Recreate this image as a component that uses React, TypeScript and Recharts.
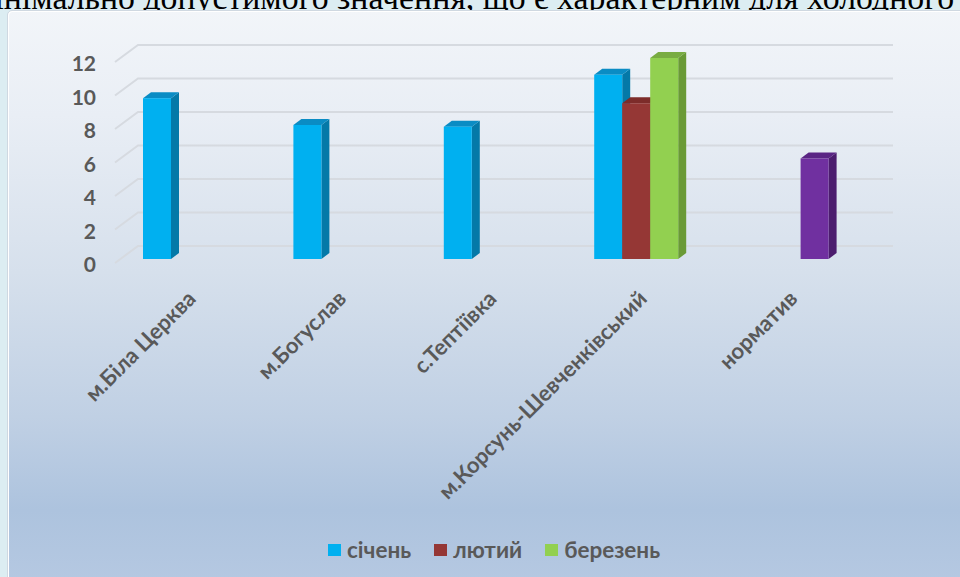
import React from 'react';
import { BarChart, Bar, XAxis, YAxis, CartesianGrid, Legend, Cell } from 'recharts';

const categories = ['м.Біла Церква', 'м.Богуслав', 'с.Тептіївка', 'м.Корсунь-Шевченківський', 'норматив'];
const january = [9.6, 8.0, 7.9, 11.0, null];
const february = [null, null, null, 9.3, null];
const march = [null, null, null, 12.0, 6.0];
const yTicks = [0, 2, 4, 6, 8, 10, 12];
const seriesNames = ['січень', 'лютий', 'березень'];
const headerText = 'мінімально допустимого значення, що є характерним для холодного';

const BLUE = '#00b0f0';
const RED = '#953735';
const GREEN = '#92d050';
const PURPLE = '#7030a0';

const shades: Record<string, { side: string; top: string }> = {
  [BLUE]: { side: '#0479a8', top: '#0a8cc4' },
  [RED]: { side: '#6f2624', top: '#7d2c2a' },
  [GREEN]: { side: '#6a9a36', top: '#79ac42' },
  [PURPLE]: { side: '#4c1d6e', top: '#5a2584' },
};

const data = categories.map((name, i) => ({
  name,
  jan: january[i],
  feb: february[i],
  mar: march[i],
}));

const FONT = 'Lato, "Open Sans", sans-serif';
const TEXT = '#595959';

const Bar3D = (props: any) => {
  const { x, y, width, height, fill } = props;
  if (height == null || !(height > 0)) return null;
  const d = 8;
  const dy = 6;
  const s = shades[fill] || { side: fill, top: fill };
  return (
    <g>
      <polygon
        points={`${x + width},${y} ${x + width + d},${y - dy} ${x + width + d},${y + height - dy} ${x + width},${y + height}`}
        fill={s.side}
      />
      <polygon
        points={`${x},${y} ${x + d},${y - dy} ${x + width + d},${y - dy} ${x + width},${y}`}
        fill={s.top}
      />
      <rect x={x} y={y} width={width} height={height} fill={fill} />
    </g>
  );
};

const gridLine = (p: any) => {
  const { x1, y1, x2 } = p;
  return (
    <path
      key={`g-${y1}`}
      d={`M${x1 + 5},${y1 + 4}L${x1 + 28},${y1 - 13}L${x2 + 31},${y1 - 13}`}
      stroke="#d6dae0"
      strokeWidth={2}
      fill="none"
    />
  );
};

const YTick = (props: any) => {
  const { y, payload } = props;
  return (
    <text x={96} y={y + 6} dy="0.35em" textAnchor="end" fontFamily={FONT} fontSize={21} fontWeight={700} fill={TEXT}>
      {payload.value}
    </text>
  );
};

const XTick = (props: any) => {
  const { x, y, payload } = props;
  return (
    <text
      transform={`translate(${x + 12},${y + 33}) rotate(-45)`}
      textAnchor="end"
      fontFamily={FONT}
      fontSize={22}
      fontWeight={700}
      fill={TEXT}
    >
      {payload.value}
    </text>
  );
};

const legendColors = [BLUE, RED, GREEN];

const LegendContent = () => (
  <div style={{ display: 'flex', alignItems: 'center', fontFamily: FONT, fontWeight: 700, fontSize: 22.5, color: TEXT, lineHeight: '28px' }}>
    {seriesNames.map((n, i) => (
      <div key={n} style={{ display: 'flex', alignItems: 'center', marginRight: 23 }}>
        <div style={{ width: 13, height: 12, background: legendColors[i], marginRight: 6 }} />
        <span>{n}</span>
      </div>
    ))}
  </div>
);

export default function App() {
  return (
    <div style={{ position: 'absolute', left: 0, top: 0, width: 960, height: 577, overflow: 'hidden', background: '#dcedf2' }}>
      <div
        style={{
          position: 'absolute',
          left: -27,
          top: -19,
          whiteSpace: 'nowrap',
          fontFamily: '"Liberation Serif", "Times New Roman", serif',
          fontSize: 33.8,
          lineHeight: '33.8px',
          color: '#000',
        }}
      >
        {headerText}
      </div>
      <div
        style={{
          position: 'absolute',
          left: 7,
          top: 10,
          width: 970,
          height: 580,
          borderRadius: 5,
          border: '1px solid #cfd8e1',
          boxShadow: 'inset 1px 1px 0 #ffffff',
          background:
            'linear-gradient(to bottom, #f2f5f9 0%, #e9eef5 18%, #d6e0ec 45%, #c0d0e4 70%, #adc3de 86%, #b6c9e2 100%)',
        }}
      />
      <div style={{ position: 'absolute', left: 0, top: 0 }}>
        <BarChart
          width={960}
          height={577}
          data={data}
          margin={{ top: 58, right: 98, bottom: 288, left: 50 }}
          barGap={0}
          barSize={28}
        >
          <CartesianGrid horizontal={gridLine} vertical={false} />
          <XAxis dataKey="name" height={30} axisLine={false} tickLine={false} tick={<XTick />} interval={0} />
          <YAxis
            width={60}
            domain={[0, 12]}
            ticks={yTicks}
            axisLine={false}
            tickLine={false}
            tick={<YTick />}
            interval={0}
          />
          <Legend
            verticalAlign="middle"
            align="center"
            layout="horizontal"
            content={<LegendContent />}
            wrapperStyle={{ top: 536, left: 328, width: 500 }}
          />
          <Bar dataKey="jan" name={seriesNames[0]} fill={BLUE} shape={<Bar3D />} isAnimationActive={false} />
          <Bar dataKey="feb" name={seriesNames[1]} fill={RED} shape={<Bar3D />} isAnimationActive={false} />
          <Bar dataKey="mar" name={seriesNames[2]} fill={GREEN} shape={<Bar3D />} isAnimationActive={false}>
            {categories.map((c, i) => (
              <Cell key={c} fill={i === 4 ? PURPLE : GREEN} />
            ))}
          </Bar>
        </BarChart>
      </div>
    </div>
  );
}
